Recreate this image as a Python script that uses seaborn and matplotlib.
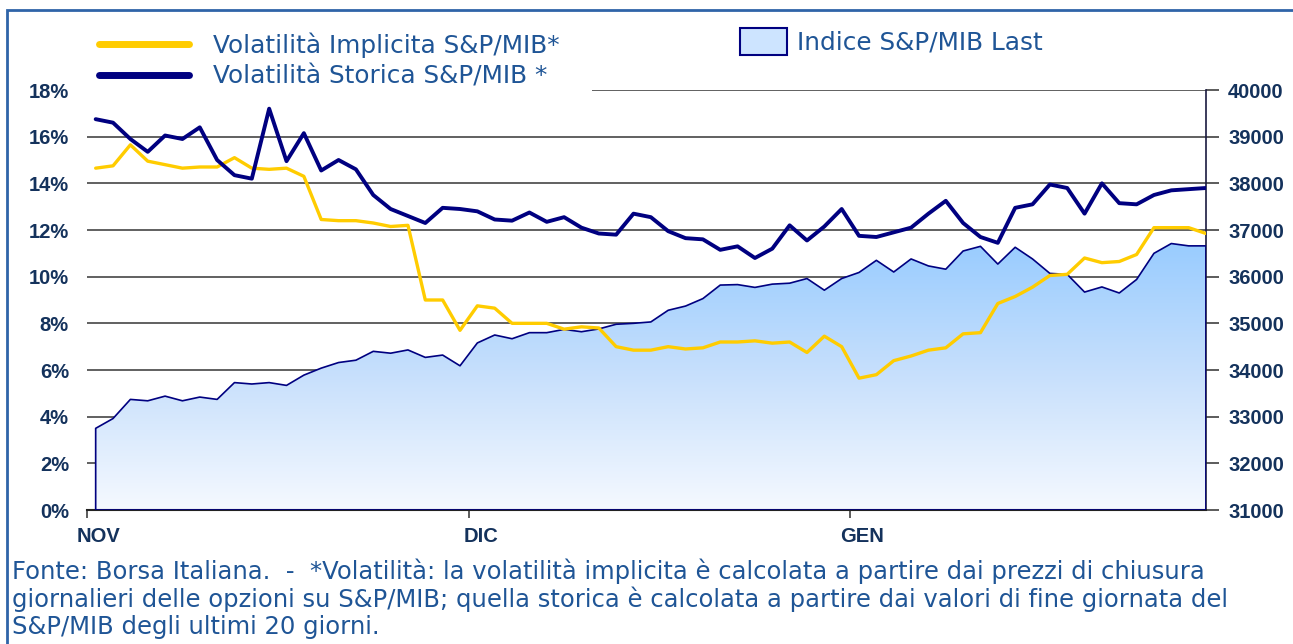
import matplotlib
matplotlib.use("Agg")
import matplotlib.pyplot as plt
import seaborn as sns
import numpy as np
from matplotlib.colors import LinearSegmentedColormap
from matplotlib.lines import Line2D
from matplotlib.patches import Patch, Rectangle
from matplotlib.transforms import ScaledTranslation

sns.set_style("white")
plt.rcParams['font.family'] = ['DejaVu Sans']

# mesi e giorni di borsa per mese
mesi = ["NOV", "DIC", "GEN"]
giorni_mese = [22, 22, 21]

# volatilità implicita (%)
vol_implicita = [14.65, 14.75, 15.65, 14.95, 14.8, 14.65, 14.7, 14.7, 15.1, 14.65,
                 14.6, 14.65, 14.3, 12.45, 12.4, 12.4, 12.3, 12.15, 12.2, 9.0,
                 9.0, 7.7, 8.75, 8.65, 8.0, 8.0, 8.0, 7.75, 7.85, 7.8,
                 7.0, 6.85, 6.85, 7.0, 6.9, 6.95, 7.2, 7.2, 7.25, 7.15,
                 7.2, 6.75, 7.45, 7.0, 5.65, 5.8, 6.4, 6.6, 6.85, 6.95,
                 7.55, 7.6, 8.85, 9.15, 9.55, 10.05, 10.1, 10.8, 10.6, 10.65,
                 10.95, 12.1, 12.1, 12.1, 11.85]

# volatilità storica (%)
vol_storica = [16.75, 16.6, 15.9, 15.35, 16.05, 15.9, 16.4, 15.0, 14.35, 14.2,
               17.2, 14.95, 16.15, 14.55, 15.0, 14.6, 13.5, 12.9, 12.6, 12.3,
               12.95, 12.9, 12.8, 12.45, 12.4, 12.75, 12.35, 12.55, 12.1, 11.85,
               11.8, 12.7, 12.55, 11.95, 11.65, 11.6, 11.15, 11.3, 10.8, 11.2,
               12.2, 11.55, 12.15, 12.9, 11.75, 11.7, 11.9, 12.1, 12.7, 13.25,
               12.3, 11.7, 11.45, 12.95, 13.1, 13.95, 13.8, 12.7, 14.0, 13.15,
               13.1, 13.5, 13.7, 13.75, 13.8]

# indice S&P/MIB
indice = [32750, 32960, 33370, 33340, 33440, 33340, 33420, 33370, 33730, 33700,
          33730, 33670, 33890, 34040, 34160, 34210, 34400, 34360, 34430, 34270,
          34320, 34090, 34580, 34750, 34670, 34800, 34800, 34870, 34820, 34880,
          34980, 35000, 35030, 35280, 35370, 35530, 35820, 35830, 35770, 35840,
          35860, 35960, 35710, 35960, 36090, 36350, 36100, 36380, 36230, 36160,
          36550, 36650, 36270, 36630, 36380, 36070, 36050, 35670, 35780, 35650,
          35940, 36500, 36710, 36660, 36660]

pct_ticks = list(range(0, 19, 2))
idx_ticks = list(range(31000, 40001, 1000))

W, H = 1293, 644
NAVY = '#000080'
GIALLO = '#FFCC00'
TESTO = '#1F5596'
ASSE = '#14325C'

giorno = np.arange(len(indice))
tick_mesi = np.cumsum([0] + giorni_mese[:-1]) - 0.5

fig = plt.figure(figsize=(W / 100, H / 100), dpi=100)
rect = [87 / W, 1 - 510 / H, (1206 - 87) / W, (510 - 90) / H]

# asse dell'indice (destra), sotto
ax_idx = fig.add_axes(rect)
ax_vol = fig.add_axes(rect, sharex=ax_idx)
ax_vol.patch.set_visible(False)

area = ax_idx.fill_between(giorno, idx_ticks[0], indice, facecolor='none',
                           edgecolor=NAVY, lw=1.2, zorder=3)
grad = np.linspace(0, 1, 256).reshape(-1, 1)
cmap = LinearSegmentedColormap.from_list('area', ['#F5F9FF', '#C8E0FC', '#99CCFF'])
im = ax_idx.imshow(grad, extent=[giorno[0], giorno[-1], idx_ticks[0], max(indice)],
                   origin='lower', aspect='auto', cmap=cmap, zorder=2)
im.set_clip_path(area.get_paths()[0], transform=ax_idx.transData)

ax_idx.set_xlim(tick_mesi[0], giorno[-1])
ax_idx.set_ylim(idx_ticks[0], idx_ticks[-1])
ax_idx.yaxis.tick_right()
ax_idx.set_yticks(idx_ticks, [str(v) for v in idx_ticks], fontfamily='Liberation Sans',
                  fontweight='bold', fontsize=14.5, color=ASSE)
ax_idx.tick_params(axis='y', right=True, length=9, width=1.2, color='#404040', pad=7)
ax_idx.set_xticks(tick_mesi, mesi, fontfamily='Liberation Sans', fontweight='bold',
                  fontsize=14.5, color=ASSE)
ax_idx.tick_params(axis='x', bottom=True, length=6, width=1.2, color='#404040', pad=6)
for lbl in ax_idx.get_xticklabels():
    lbl.set_transform(lbl.get_transform() + ScaledTranslation(0.12, 0, fig.dpi_scale_trans))
ax_idx.grid(axis='y', color='#454545', lw=1.2)
ax_idx.grid(axis='x', visible=False)
ax_idx.set_axisbelow(True)
for s in ['left', 'top']:
    ax_idx.spines[s].set_visible(False)
ax_idx.spines['bottom'].set_color('#222222')
ax_idx.spines['bottom'].set_linewidth(1.5)
ax_idx.spines['right'].set_color('#1a1a40')
ax_idx.spines['right'].set_linewidth(1.2)

# volatilità (sinistra), sopra
sns.lineplot(x=giorno, y=vol_implicita, ax=ax_vol, color=GIALLO, lw=2.4)
sns.lineplot(x=giorno, y=vol_storica, ax=ax_vol, color=NAVY, lw=2.8)
ax_vol.set_ylim(pct_ticks[0], pct_ticks[-1])
ax_vol.set_yticks(pct_ticks, [f"{v}%" for v in pct_ticks], fontfamily='Liberation Sans',
                  fontweight='bold', fontsize=14.5, color=ASSE)
ax_vol.tick_params(axis='y', left=True, length=0, pad=13)
ax_vol.tick_params(axis='x', bottom=False, labelbottom=False)
ax_vol.grid(False)
for s in ax_vol.spines.values():
    s.set_visible(False)
ax_vol.set_xlabel("")
ax_vol.set_ylabel("")

# legende
h_vol = [Line2D([], [], color=GIALLO, lw=5), Line2D([], [], color=NAVY, lw=5)]
leg = fig.legend(h_vol, ["Volatilità Implicita S&P/MIB*", "Volatilità Storica S&P/MIB *"],
                 loc='upper left', bbox_to_anchor=(85 / W, 0, (592 - 85) / W, 1 - 19 / H),
                 mode='expand', ncol=1, frameon=True, facecolor='white', edgecolor='none',
                 framealpha=1, fancybox=False, fontsize=17.8, handlelength=3.64,
                 handletextpad=1.0, labelspacing=0.25, borderpad=0.55, borderaxespad=0,
                 labelcolor=TESTO)
leg.set_zorder(10)
fig.legend([Patch(facecolor='#CDE4FF', edgecolor=NAVY, lw=1.5)], ["Indice S&P/MIB Last"],
           loc='upper left', bbox_to_anchor=(730 / W, 1 - 18 / H), frameon=False,
           fontsize=17.8, handlelength=1.9, handleheight=1.3, handletextpad=0.4,
           borderaxespad=0, labelcolor=TESTO)

fig.text(12 / W, 1 - 559 / H,
         "Fonte: Borsa Italiana.  -  *Volatilità: la volatilità implicita è calcolata a partire dai prezzi di chiusura\n"
         "giornalieri delle opzioni su S&P/MIB; quella storica è calcolata a partire dai valori di fine giornata del\n"
         "S&P/MIB degli ultimi 20 giorni.",
         fontsize=17.5, color=TESTO, va='top', ha='left', linespacing=1.12)

fig.patches.append(Rectangle((7 / W, -0.05), 1.0, 1 - 10 / H + 0.05, transform=fig.transFigure,
                             fill=False, edgecolor='#2F64A8', lw=2))

fig.savefig("out.png", dpi=100)
